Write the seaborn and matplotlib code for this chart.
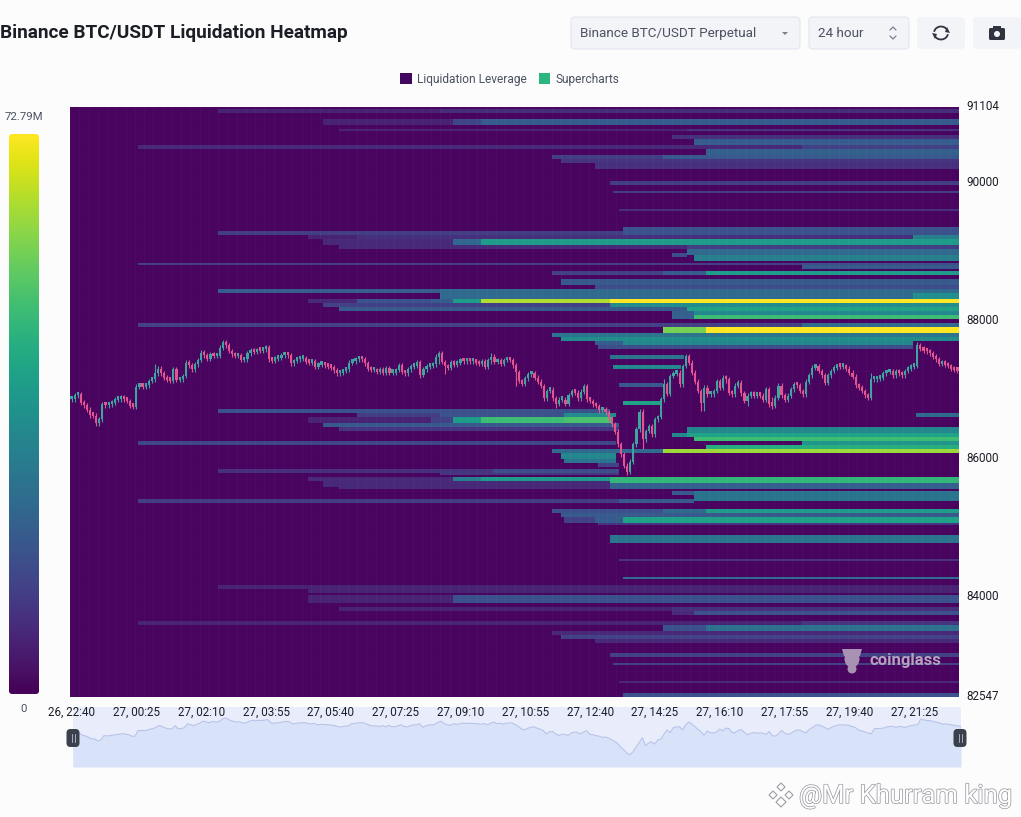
import numpy as np
import pandas as pd
import matplotlib
matplotlib.use("Agg")
import matplotlib.pyplot as plt
from matplotlib import patches, patheffects
from matplotlib.colors import ListedColormap
from matplotlib.patches import Patch
from matplotlib.transforms import ScaledTranslation
import seaborn as sns

# y axis / x axis
price_top = 91104
price_bottom = 82547
price_ticks = [91104, 90000, 88000, 86000, 84000, 82547]
time_labels = ["26, 22:40", "27, 00:25", "27, 02:10", "27, 03:55", "27, 05:40", "27, 07:25", "27, 09:10",
               "27, 10:55", "27, 12:40", "27, 14:25", "27, 16:10", "27, 17:55", "27, 19:40", "27, 21:25"]
n_candles = 288
max_leverage = 72.79

# liquidation bands (price range, first/last candle, value in M)
band_high = [91072, 91072, 90941, 90941, 90941, 90797, 90797, 90710, 90637, 90565, 90565, 90492, 90420, 90420, 90347, 90289,
             90029, 89898, 89637, 89377, 89304, 89304, 89246, 89246, 89188, 89188, 89188, 89246, 89116, 89116, 88985, 89043,
             88956, 88855, 88855, 88811, 88739, 88739, 88739, 88609, 88536, 88478, 88478, 88406, 88333, 88333, 88333, 88333,
             88333, 88333, 88275, 88275, 88217, 88217, 88145, 88145, 88101, 87957, 87957, 87899, 87899, 87826, 87768, 87696,
             87696, 87638, 87493, 87362, 87102, 86841, 86710, 86652, 86652, 86652, 86594, 86594, 86594, 86594, 86594, 86522,
             86450, 86652, 86247, 86450, 86377, 86377, 86319, 86247, 86189, 86131, 86131, 86073, 86000, 85928, 85855, 85855,
             85855, 85797, 85725, 85725, 85725, 85725, 85667, 85653, 85609, 85537, 85537, 85406, 85406, 85276, 85276, 85276,
             85203, 85146, 85146, 85146, 85073, 84885, 84551, 84291, 84160, 84160, 84030, 84030, 83841, 83841, 83783, 83783,
             83653, 83653, 83580, 83580, 83508, 83450, 83392, 83189, 83044, 82784, 82595]
band_low = [91028, 91028, 90840, 90840, 90840, 90753, 90753, 90652, 90565, 90507, 90507, 90420, 90347, 90347, 90289, 90202,
            89985, 89869, 89608, 89304, 89261, 89261, 89188, 89188, 89116, 89116, 89116, 89188, 89043, 89043, 88942, 88956,
            88869, 88811, 88811, 88753, 88681, 88681, 88681, 88536, 88478, 88406, 88333, 88333, 88275, 88275, 88275, 88275,
            88275, 88275, 88217, 88217, 88145, 88145, 88029, 88101, 88029, 87899, 87899, 87826, 87826, 87768, 87696, 87638,
            87638, 87580, 87435, 87304, 87044, 86783, 86652, 86594, 86594, 86594, 86522, 86522, 86522, 86522, 86522, 86450,
            86392, 86594, 86189, 86377, 86319, 86319, 86261, 86189, 86131, 86073, 86073, 86000, 85928, 85870, 85797, 85797,
            85797, 85754, 85667, 85667, 85667, 85653, 85595, 85566, 85551, 85479, 85392, 85348, 85348, 85203, 85203, 85203,
            85146, 85073, 85073, 85073, 85029, 84769, 84508, 84247, 84102, 84044, 83914, 83914, 83783, 83783, 83725, 83725,
            83595, 83595, 83508, 83508, 83450, 83392, 83334, 83131, 83001, 82741, 82537]
band_start = [48, 120, 82, 124, 133, 87, 200, 195, 202, 22, 237, 206, 156, 192, 159, 170,
              175, 176, 178, 179, 48, 179, 77, 93, 82, 124, 133, 273, 87, 200, 195, 200,
              202, 22, 237, 237, 156, 192, 206, 159, 170, 48, 120, 273, 77, 93, 117, 124,
              133, 175, 82, 175, 87, 200, 195, 202, 202, 22, 237, 192, 206, 156, 159, 170,
              179, 171, 175, 176, 178, 179, 48, 93, 120, 160, 77, 117, 124, 133, 160, 82,
              87, 274, 22, 200, 195, 200, 202, 237, 206, 156, 192, 159, 160, 171, 48, 120,
              137, 120, 77, 124, 133, 175, 82, 175, 87, 195, 202, 22, 178, 156, 192, 206,
              159, 160, 170, 179, 171, 175, 178, 179, 48, 77, 77, 124, 87, 195, 195, 202,
              22, 237, 192, 206, 156, 159, 170, 175, 176, 178, 179]
band_end = [288, 288, 288, 288, 288, 288, 288, 288, 288, 237, 288, 288, 192, 288, 288, 288,
            288, 288, 288, 288, 288, 288, 93, 288, 124, 133, 288, 288, 288, 288, 200, 288,
            288, 237, 288, 288, 192, 206, 288, 288, 288, 120, 288, 288, 93, 117, 124, 133,
            175, 288, 175, 288, 200, 288, 202, 288, 288, 237, 288, 206, 288, 288, 288, 179,
            273, 273, 199, 198, 192, 191, 175, 120, 160, 177, 117, 124, 133, 160, 176, 178,
            178, 288, 177, 288, 200, 288, 288, 288, 288, 192, 288, 177, 177, 178, 120, 137,
            178, 178, 124, 133, 175, 288, 175, 288, 175, 202, 288, 178, 202, 192, 206, 288,
            288, 170, 179, 288, 288, 288, 288, 288, 273, 288, 124, 288, 195, 288, 202, 288,
            237, 288, 206, 288, 288, 288, 288, 288, 288, 288, 288]
band_value = [7, 9, 7, 15, 21, 7, 11, 10, 21, 8, 14, 22, 13, 20, 11, 10,
              13, 13, 10, 18, 13, 18, 7, 10, 8, 24, 40, 31, 8, 13, 17, 25,
              31, 13, 17, 20, 14, 21, 40, 20, 17, 21, 25, 36, 8, 18, 21, 40,
              64, 72.79, 14, 35, 20, 42, 22, 34, 50, 14, 25, 58, 72.79, 28, 35, 21,
              34, 17, 28, 34, 20, 42, 18, 13, 18, 35, 7, 14, 40, 50, 52, 20,
              11, 25, 15, 34, 34, 42, 50, 38, 45, 25, 62, 34, 28, 14, 10, 11,
              17, 11, 8, 31, 40, 48, 8, 22, 8, 20, 28, 13, 20, 18, 25, 40,
              20, 14, 21, 42, 11, 28, 11, 25, 7, 7, 7, 18, 7, 10, 8, 18,
              7, 11, 18, 27, 8, 14, 8, 14, 14, 8, 18]

# candle closes, one per 5 minutes
close_a = [86865, 86923, 86938, 86817, 86778, 86711, 86633, 86624, 86518, 86576, 86793, 86778, 86793, 86817, 86856, 86865,
           86894, 86865, 86841, 86769, 86759, 87049, 87059, 87049, 87068, 87131, 87155, 87242, 87310, 87242, 87179, 87145,
           87131, 87300, 87145, 87155, 87203, 87397, 87358, 87300, 87372, 87435, 87542, 87503, 87455, 87517, 87493, 87493,
           87614, 87696, 87648, 87566, 87517, 87493, 87503, 87435, 87445, 87532, 87580, 87551, 87580, 87570, 87590, 87619,
           87445, 87426, 87455, 87464, 87503, 87522, 87503, 87387]
close_b = [87421, 87445, 87455, 87464, 87406, 87397, 87421, 87339, 87368, 87372, 87358, 87339, 87324, 87286, 87242, 87252,
           87276, 87300, 87397, 87416, 87445, 87455, 87445, 87387, 87310, 87290, 87290, 87261, 87300, 87252, 87319, 87252,
           87252, 87290, 87358, 87261, 87242, 87300, 87339, 87348, 87406, 87223, 87300, 87339, 87348, 87372, 87484, 87532,
           87406, 87348, 87319, 87406, 87368, 87397, 87435, 87416, 87435, 87416, 87416, 87397, 87377, 87416, 87339, 87435,
           87484, 87406, 87435, 87377, 87435, 87445, 87435, 87358, 87261, 87131]
close_c = [87092, 87169, 87227, 87246, 87179, 87121, 87058, 86879, 86986, 87005, 86879, 86802, 86860, 86860, 86802, 86928,
           86976, 86961, 86879, 86976, 87053, 86865, 86841, 86792, 86768, 86705, 86720, 86676, 86589, 86503, 86396, 86213,
           86068, 85899, 85817, 85962, 86213, 86430, 86686, 86285, 86406, 86478, 86358, 86575, 86609, 86865, 87082, 86947,
           87203, 87237, 87251, 87082, 87348, 87493, 87396, 87251, 87121, 86986, 86816, 87034]
close_d = [86938, 86938, 86986, 87131, 87034, 87179, 87155, 86962, 86938, 87059, 87107, 86952, 86841, 86914, 86952, 86914,
           86938, 86914, 86856, 87010, 86793, 86769, 86889, 87059, 86923, 86856, 86914, 87010, 87083, 87068, 86986, 86938,
           87117, 87213, 87324, 87348, 87276, 87213, 87107, 87213, 87276, 87324, 87348, 87339, 87339, 87310, 87252, 87194,
           87068, 87034, 86986, 86923, 86889, 87155, 87155, 87165, 87179, 87242, 87261, 87276, 87213, 87271, 87242, 87213,
           87276, 87310, 87339, 87348, 87648, 87599, 87570, 87561, 87532, 87484, 87445, 87377, 87397, 87368, 87348, 87310,
           87290, 87281]

# the wicks that stick out, the rest are short
wick_index = [27, 49, 64, 113, 119, 121, 136, 144, 157, 166, 180, 184, 185, 192, 199, 204, 205, 212, 219, 227, 229, 258, 259, 274]
wick_high = [87373, 87720, 87630, 87440, 87560, 87360, 87532, 87290, 86860, 87082, 85850, 86705, 86420, 87154, 87517, 86860, 87060, 87220, 86950, 86900, 87100, 86930, 87252, 87696]
wick_low = [87210, 87620, 87400, 87180, 87380, 87228, 87380, 87058, 86744, 86940, 85770, 86430, 86140, 86930, 87340, 86700, 86696, 87100, 86769, 86720, 86900, 86850, 87080, 87330]
short_wick = 35
min_body = 50

closes = close_a + close_b + close_c + close_d
opens = closes[:1] + closes[:-1]

# heatmap matrix from the bands
n_rows = 295
row_edges = np.linspace(price_top, price_bottom, n_rows + 1)
row_mid = (row_edges[:-1] + row_edges[1:]) / 2
heat = np.zeros((n_rows, n_candles))
for hi, lo, a, b, v in zip(band_high, band_low, band_start, band_end, band_value):
    heat[(row_mid <= hi) & (row_mid >= lo), a:b] = v

candles = pd.DataFrame({"i": np.arange(n_candles) + 0.5, "open": opens, "close": closes})
candles["high"] = candles[["open", "close"]].max(axis=1) + short_wick
candles["low"] = candles[["open", "close"]].min(axis=1) - short_wick
for i, hi, lo in zip(wick_index, wick_high, wick_low):
    candles.loc[i, "high"] = max(hi, candles.loc[i, "high"])
    candles.loc[i, "low"] = min(lo, candles.loc[i, "low"])

sns.set_theme(style="white")
plt.rcParams["font.family"] = ["Roboto", "DejaVu Sans"]
W, H = 1021, 817
bg = "#fcfcfd"
text_dark = "#1c1e26"
text_mid = "#4b5160"

# viridis with the page's slightly warmer purple at the bottom
heat_colors = plt.get_cmap("viridis")(np.linspace(0, 1, 256))
heat_colors[0, :3] = [0.282, 0.016, 0.373]
heat_cmap = ListedColormap(heat_colors)

fig = plt.figure(figsize=(W / 100, H / 100), dpi=100, facecolor=bg)


def px_axes(x0, y0, x1, y1):
    return fig.add_axes([x0 / W, 1 - y1 / H, (x1 - x0) / W, (y1 - y0) / H])


# range slider sits under the time labels
mini = px_axes(73, 707, 961, 767)
mini.set_zorder(-1)
mini.set_facecolor("#e9edfb")
mini.set_xlim(0.5, n_candles - 0.5)
mini.set_ylim(85185, 88262)
mini.fill_between(candles["i"], 85185, candles["close"], color="#d8e2f8", lw=0)
sns.lineplot(data=candles, x="i", y="close", ax=mini, color="#b7c4e8", lw=0.8, estimator=None)
mini.set_xticks([])
mini.set_yticks([])
mini.set_xlabel("")
mini.set_ylabel("")
for s in mini.spines.values():
    s.set_visible(False)

ax = px_axes(70, 107, 959, 697)
cax = px_axes(9, 134, 39, 694)
sns.heatmap(heat, cmap=heat_cmap, vmin=0, vmax=max_leverage, ax=ax, cbar_ax=cax,
            xticklabels=False, yticklabels=False, rasterized=True)
cax.set_yticks([])
cbar = ax.collections[0].colorbar
cbar.outline.set_visible(False)

# faint lattice of the heatmap cells
ax.vlines(np.arange(0, n_candles, 3), 0, n_rows, color="white", alpha=0.03, lw=0.6)
ax.hlines(np.arange(0, n_rows, 6), 0, n_candles, color="white", alpha=0.02, lw=0.5)

ax.set_xticks(np.arange(len(time_labels)) * 21 + 0.5)
ax.set_xticklabels(time_labels, rotation=0, fontsize=8.4, color=text_dark)
ax.tick_params(axis="x", length=0, pad=6)

# candles on a price axis over the heatmap
price_ax = ax.twinx()
price_ax.set_ylim(price_bottom, price_top)
price_ax.set_yticks(price_ticks)
price_ax.set_yticklabels([str(p) for p in price_ticks], fontsize=8.4, color=text_dark)
price_ax.tick_params(axis="y", length=0, pad=5)
price_ax.grid(False)
for lab in price_ax.get_yticklabels():
    lab.set_transform(lab.get_transform() + ScaledTranslation(0, 2 / 100, fig.dpi_scale_trans))
for s in price_ax.spines.values():
    s.set_visible(False)
up = candles["close"] >= candles["open"]
candle_colors = np.where(up, "#3fa39f", "#e2558f")
price_ax.vlines(candles["i"], candles["low"], candles["high"], colors=candle_colors, lw=0.8)
body_low = candles[["open", "close"]].min(axis=1)
price_ax.bar(candles["i"], (candles["close"] - candles["open"]).abs().clip(lower=min_body),
             bottom=body_low, width=0.7, color=candle_colors, linewidth=0)

# page furniture drawn in pixel coordinates
ui = fig.add_axes([0, 0, 1, 1], zorder=5)
ui.set_xlim(0, W)
ui.set_ylim(H, 0)
ui.axis("off")
ui.patch.set_visible(False)

clip = patches.FancyBboxPatch((9, 134), 30, 560, boxstyle="round,pad=0,rounding_size=3", transform=ui.transData)
ax.collections[0].colorbar.solids.set_clip_path(clip)

ui.text(0, 33, "Binance BTC/USDT Liquidation Heatmap", fontsize=13.7, weight="bold", color=text_dark, va="center")
ui.text(24, 116.5, "72.79M", fontsize=8.2, color=text_mid, ha="center", va="center")
ui.text(24, 708.5, "0", fontsize=8.2, color=text_mid, ha="center", va="center")


def button(x, w, edge):
    ui.add_patch(patches.FancyBboxPatch((x, 17), w, 32, boxstyle="round,pad=0,rounding_size=4",
                                        fc="#f2f4f8", ec=edge, lw=0.8))


button(571, 229, "#e3e6ee")
button(809, 100, "#e3e6ee")
button(917, 48, "none")
button(973, 48, "none")
ui.text(580, 33, "Binance BTC/USDT Perpetual", fontsize=9.7, color=text_mid, va="center")
ui.text(818, 33, "24 hour", fontsize=9.7, color=text_mid, va="center")
ui.add_patch(patches.Polygon([(782, 32), (788, 32), (785, 35)], fc="#7a8090", ec="none"))
ui.plot([890, 893, 896], [30, 27, 30], color="#7a8090", lw=0.9)
ui.plot([890, 893, 896], [36, 39, 36], color="#7a8090", lw=0.9)

# refresh icon
ui.add_patch(patches.Arc((941, 33), 14, 13, theta1=190, theta2=335, ec="#2f3440", lw=1.3))
ui.add_patch(patches.Arc((941, 33), 14, 13, theta1=10, theta2=155, ec="#2f3440", lw=1.3))
ui.add_patch(patches.Polygon([(947, 27), (950, 33), (945, 32)], fc="#2f3440", ec="none"))
ui.add_patch(patches.Polygon([(935, 39), (932, 33), (937, 34)], fc="#2f3440", ec="none"))

# camera icon
ui.add_patch(patches.FancyBboxPatch((989, 28), 16, 12, boxstyle="round,pad=0,rounding_size=1.5", fc="#2f3440", ec="none"))
ui.add_patch(patches.Rectangle((993, 26), 8, 3, fc="#2f3440", ec="none"))
ui.add_patch(patches.Circle((997, 34), 3, fc="#f2f4f8", ec="none"))

# legend
legend_handles = [Patch(fc="#42085f", ec="none", label="Liquidation Leverage"),
                  Patch(fc="#2bb57f", ec="none", label="Supercharts")]
ui.legend(handles=legend_handles, loc="center", bbox_to_anchor=(510, 79), bbox_transform=ui.transData, ncol=2,
          frameon=False, fontsize=8.6, handlelength=0.95, handleheight=0.95, handletextpad=0.45,
          columnspacing=1.0, labelcolor=text_mid)

# slider handles
for hx in (73, 960):
    ui.add_patch(patches.FancyBboxPatch((hx - 6.5, 729), 13, 18, boxstyle="round,pad=0,rounding_size=4", fc="#3a404c", ec="none"))
    ui.plot([hx - 1.5, hx - 1.5], [734, 742], color="#aab0bc", lw=0.7)
    ui.plot([hx + 1.5, hx + 1.5], [734, 742], color="#aab0bc", lw=0.7)

# coinglass watermark
mark = "#a892b3"
ui.add_patch(patches.Ellipse((852, 659), 15, 17, fc=mark, ec="none"))
ui.add_patch(patches.Ellipse((852, 669), 9, 9, fc=mark, ec="none"))
ui.add_patch(patches.Polygon([(842, 649), (862, 649), (860, 656), (844, 656)], fc=mark, ec="none"))
ui.text(869, 661, "coinglass", fontsize=12, weight="bold", color="#b3a3bf", va="center")

# uploader watermark
stroke = [patheffects.withStroke(linewidth=1.1, foreground="#9c9ca4")]
ui.text(799, 796, "@Mr Khurram king", fontsize=18.5, color="white", va="center", path_effects=stroke)
for dx, dy, r in [(781, 787, 4), (773, 795, 4), (789, 795, 4), (781, 802, 5)]:
    ui.add_patch(patches.Polygon([(dx - r, dy), (dx, dy - r), (dx + r, dy), (dx, dy + r)], fc="white", ec="#9c9ca4", lw=0.8))

fig.savefig("out.png", dpi=100, facecolor=bg)
